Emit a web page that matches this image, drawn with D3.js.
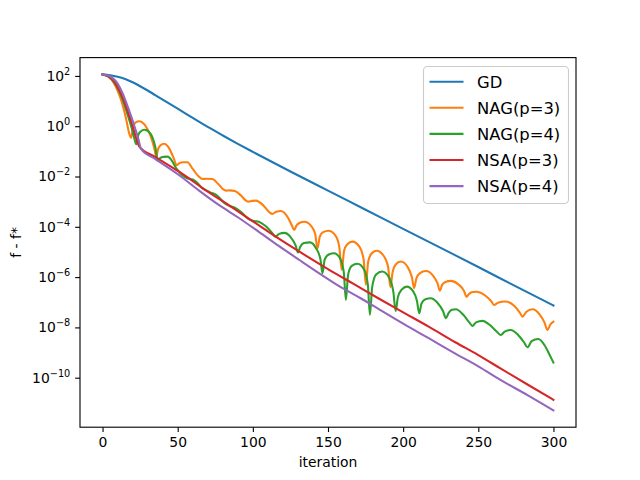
<!DOCTYPE html>
<html><head><meta charset="utf-8">
<script src="https://cdn.jsdelivr.net/npm/d3@7"></script>
<style>body{margin:0;background:#fff} text{font-family:"DejaVu Sans",sans-serif}</style>
</head><body><svg id="c" width="640" height="480"></svg>
<script>
// ---- data: [iteration, log10(f - f*)] ----
const seriesNames = ["GD","NAG(p=3)","NAG(p=4)","NSA(p=3)","NSA(p=4)"];
const seriesColors = ["#1f77b4","#ff7f0e","#2ca02c","#d62728","#9467bd"];
const xTicks = [0,50,100,150,200,250,300];
const yTickExps = [2,0,-2,-4,-6,-8,-10];

const gd = [[0,2.06],[5,2.03],[10,1.97],[15,1.88],[20,1.75],[25,1.59],[30,1.42],[35,1.24],[40,1.06],[50,0.7],[60,0.33],[70,-0.03],[80,-0.37],[90,-0.7],[100,-1.02],[125,-1.8],[150,-2.56],[175,-3.32],[200,-4.08],[225,-4.84],[250,-5.6],[275,-6.37],[300,-7.13]];

const nag3 = [[0,2.06],[3,2.0],[6,1.85],[9,1.55],[12,1.1],[14,0.7],[16,0.2],[17.8,-0.3],[19,-0.46],[20.3,-0.05],[22,0.15],[24.5,0.2],[28,0.06],[32,-0.4],[34.5,-0.9],[35.7,-1.2],[37,-0.9],[38.5,-0.76],[41,-0.7],[44.5,-0.9],[47.5,-1.3],[49.3,-1.55],[51,-1.48],[53.5,-1.43],[56.5,-1.43],[60,-1.7],[64,-2.0],[66.5,-2.1],[69,-2.09],[73,-2.1],[77,-2.3],[80.5,-2.52],[82,-2.56],[84.5,-2.55],[88,-2.58],[92,-2.75],[95.5,-2.96],[97,-3.0],[99.5,-2.97],[102,-2.96],[107,-3.15],[111,-3.42],[113,-3.49],[115.5,-3.4],[118.7,-3.37],[123,-3.6],[126,-3.95],[127.5,-4.13],[129,-3.95],[131,-3.85],[134.3,-3.8],[139,-3.98],[141.5,-4.3],[143,-4.86],[144.5,-4.4],[146.5,-4.22],[150.3,-4.16],[155,-4.35],[157.5,-4.8],[159.2,-5.72],[160.7,-4.95],[162.7,-4.7],[166.3,-4.59],[171,-4.8],[173.7,-5.3],[175.2,-6.31],[176.7,-5.4],[178.7,-5.08],[182.3,-4.95],[187,-5.15],[190,-5.6],[191.5,-6.4],[193,-5.8],[195,-5.5],[198.5,-5.38],[203,-5.6],[205.8,-6.0],[207.3,-6.44],[208.8,-6.05],[211,-5.85],[215.1,-5.76],[220,-5.95],[222.9,-6.25],[224.4,-6.54],[226,-6.3],[228,-6.2],[231.7,-6.15],[237,-6.3],[240.5,-6.55],[242.1,-6.78],[243.7,-6.68],[245.5,-6.6],[248.4,-6.58],[255,-6.75],[258.5,-6.95],[260.5,-7.11],[263,-7.02],[267.9,-6.97],[274,-7.15],[277.5,-7.4],[279.4,-7.57],[282,-7.38],[286,-7.28],[291,-7.5],[294,-7.8],[296,-8.1],[298,-7.88],[300,-7.77]];

const nag4 = [[0,2.06],[4,1.97],[8,1.72],[11,1.4],[14,0.95],[17,0.4],[19.5,-0.1],[21,-0.45],[22.5,-0.72],[23.8,-0.35],[25.5,-0.2],[28,-0.14],[32,-0.3],[35,-0.8],[36.8,-1.35],[38.5,-1.26],[40.5,-1.22],[43.2,-1.21],[46,-1.36],[48.5,-1.62],[50,-1.75],[53,-1.95],[56,-2.06],[60,-2.12],[63,-2.25],[66,-2.45],[69,-2.55],[72,-2.64],[75.4,-2.72],[78,-2.86],[81,-3.05],[84.5,-3.17],[88,-3.24],[92,-3.4],[97,-3.68],[100,-3.76],[104,-3.8],[108,-3.95],[113,-4.25],[115,-4.39],[117.5,-4.28],[121,-4.24],[125,-4.4],[128.5,-4.75],[130,-5.02],[131.5,-4.8],[134,-4.64],[138,-4.62],[142,-4.85],[145,-5.3],[146.3,-5.85],[147.8,-5.3],[150.5,-5.1],[154.1,-5.05],[158,-5.25],[160.5,-5.8],[161.9,-6.91],[163.4,-5.9],[165.8,-5.55],[169.6,-5.47],[174,-5.7],[176.5,-6.3],[177.9,-7.5],[179.4,-6.4],[182,-5.9],[186,-5.78],[190.5,-6.0],[193.5,-6.6],[195,-7.35],[196.5,-6.8],[199,-6.5],[202.5,-6.38],[206.5,-6.55],[209.2,-6.95],[210.7,-7.44],[212.2,-7.05],[214.8,-6.88],[218.4,-6.84],[222.5,-7.0],[226.5,-7.35],[228.4,-7.63],[230.3,-7.42],[232.5,-7.3],[235.1,-7.28],[240,-7.5],[244,-7.8],[246.1,-7.94],[248.5,-7.8],[252.8,-7.74],[258,-7.92],[262.5,-8.18],[265,-8.3],[267.5,-8.17],[271.6,-8.10],[276.5,-8.3],[280.5,-8.6],[282.7,-8.79],[285.5,-8.55],[290,-8.46],[294,-8.7],[297.5,-9.1],[300,-9.40]];

const nsa3 = [[0,2.06],[4,1.98],[8,1.76],[11,1.45],[14,1.05],[17,0.55],[20,0.0],[22,-0.4],[24.4,-0.8],[35,-1.22],[51,-1.81],[67,-2.48],[83,-3.1],[100,-3.78],[115,-4.38],[131,-4.99],[150,-5.68],[167,-6.27],[184,-6.86],[200,-7.4],[217,-7.97],[235,-8.6],[250,-9.1],[265,-9.64],[283,-10.28],[300,-10.88]];

const nsa4 = [[0,2.06],[5,1.98],[9,1.78],[13,1.35],[16,0.9],[19,0.4],[22,-0.15],[24,-0.55],[25.5,-0.89],[35,-1.3],[51,-1.95],[64,-2.55],[77.6,-3.14],[90,-3.62],[104,-4.2],[117,-4.75],[131,-5.32],[145,-5.88],[160,-6.45],[172,-6.85],[184,-7.28],[200,-7.85],[217,-8.43],[235,-9.05],[250,-9.55],[265,-10.1],[283,-10.7],[300,-11.3]];

const allSeries = [gd, nag3, nag4, nsa3, nsa4];

// ---- layout ----
const L = 80, R = 576, T = 57.6, B = 427.2;
const svg = d3.select("#c");

const xAll = allSeries.flat().map(d => d[0]);
const xMin = d3.min(xAll), xMax = d3.max(xAll), xm = (xMax - xMin) * 0.05;
const x = d3.scaleLinear().domain([xMin - xm, xMax + xm]).range([L, R]);

const eAll = allSeries.flat().map(d => d[1]);
const eMin = d3.min(eAll), eMax = d3.max(eAll), em = (eMax - eMin) * 0.05;
const y = d3.scaleLog().domain([Math.pow(10, eMin - em), Math.pow(10, eMax + em)]).range([B, T]);

svg.append("defs").append("clipPath").attr("id","clip")
  .append("rect").attr("x",L).attr("y",T).attr("width",R-L).attr("height",B-T);

const line = d3.line().x(d => x(d[0])).y(d => y(Math.pow(10, d[1]))).curve(d3.curveMonotoneX);
const g = svg.append("g").attr("clip-path","url(#clip)");
allSeries.forEach((s, i) => {
  g.append("path").datum(s).attr("d", line)
   .attr("fill","none").attr("stroke", seriesColors[i]).attr("stroke-width",2.08)
   .attr("stroke-linejoin","round").attr("stroke-linecap","square");
});

// ---- axes ----
const tickLen = 4.86, tickPad = 4.86, fs = 13.9;
const xAxis = svg.append("g").attr("transform",`translate(0,${B})`)
  .call(d3.axisBottom(x).tickValues(xTicks).tickSize(tickLen).tickPadding(tickPad).tickSizeOuter(0));
xAxis.select(".domain").remove();
xAxis.selectAll(".tick line").attr("stroke","#000").attr("stroke-width",1.11);
xAxis.selectAll(".tick text").attr("font-size",fs).attr("fill","#000")
  .attr("font-family","DejaVu Sans").attr("dy","0.76em");

const yAxis = svg.append("g").attr("transform",`translate(${L},0)`)
  .call(d3.axisLeft(y).tickValues(yTickExps.map(e => Math.pow(10, e))).tickSize(tickLen).tickPadding(tickPad).tickFormat(""));
yAxis.select(".domain").remove();
yAxis.selectAll(".tick line").attr("stroke","#000").attr("stroke-width",1.11);
yAxis.selectAll(".tick").each(function(d) {
  const t = d3.select(this).select("text").text(null)
    .attr("font-size", fs).attr("fill","#000").attr("font-family","DejaVu Sans")
    .attr("dy","0.32em").attr("x", -(tickLen + tickPad));
  const ex = Math.round(Math.log10(d));
  t.append("tspan").text("10");
  t.append("tspan").attr("font-size", fs*0.7).attr("dy","-0.62em")
    .text(ex < 0 ? "\u2212" + Math.abs(ex) : String(ex));
});

// spines
svg.append("rect").attr("x",L).attr("y",T).attr("width",R-L).attr("height",B-T)
  .attr("fill","none").attr("stroke","#000").attr("stroke-width",1.11);

// axis labels
svg.append("text").attr("x",(L+R)/2).attr("y",467).attr("text-anchor","middle")
  .attr("font-size",fs).text("iteration");
svg.append("text").attr("transform",`translate(21,${(T+B)/2}) rotate(-90)`)
  .attr("text-anchor","middle").attr("font-size",fs).text("f - f*");

// ---- legend ----
const lg = svg.append("g");
const lx = 423.5, ly = 66.5, lw = 145, lh = 137;
lg.append("rect").attr("x",lx).attr("y",ly).attr("width",lw).attr("height",lh)
  .attr("rx",4).attr("fill","#fff").attr("fill-opacity",0.8)
  .attr("stroke","#cccccc").attr("stroke-width",1.11);
seriesNames.forEach((n, i) => {
  const yy = 81.7 + i * 26.1;
  lg.append("line").attr("x1",429.5).attr("x2",463.5).attr("y1",yy).attr("y2",yy)
    .attr("stroke", seriesColors[i]).attr("stroke-width",2.08);
  lg.append("text").attr("x",477).attr("y",yy).attr("dy","0.36em")
    .attr("font-size",16.4).text(n);
});
</script></body></html>
